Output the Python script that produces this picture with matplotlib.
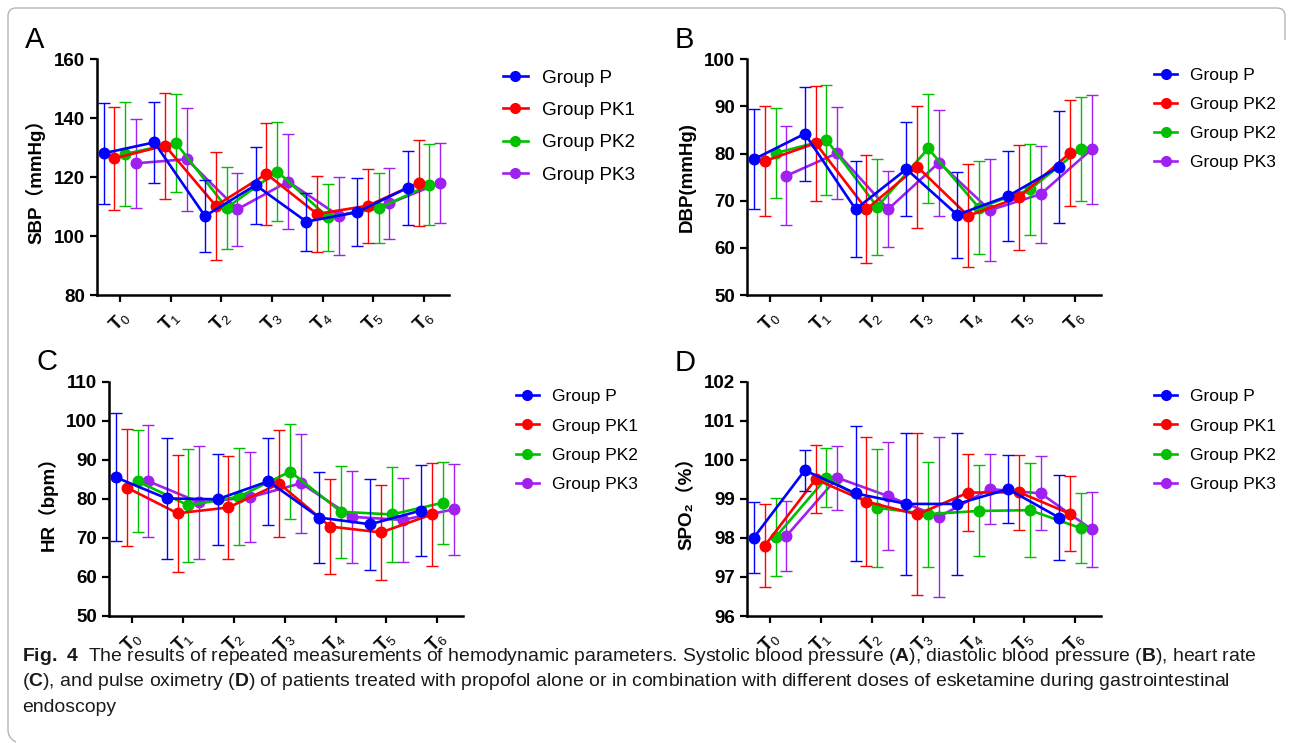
import matplotlib
matplotlib.use("Agg")
import matplotlib.pyplot as plt
from matplotlib.path import Path
from matplotlib.patches import PathPatch
import numpy as np

plt.rcParams['mathtext.fontset'] = 'custom'
plt.rcParams['mathtext.rm'] = 'Liberation Sans'
plt.rcParams['mathtext.bf'] = 'Liberation Sans:bold'
plt.rcParams['mathtext.sf'] = 'Liberation Sans:bold'
plt.rcParams['font.family'] = ['Liberation Sans', 'Noto Sans CJK SC', 'DejaVu Sans']

# ---------------- data ----------------
time_points = ['0', '1', '2', '3', '4', '5', '6']
tick_labels = [r'$\mathbf{T}_{\mathrm{%s}}$' % t for t in time_points]

groups_A = ['Group P', 'Group PK1', 'Group PK2', 'Group PK3']
groups_B = ['Group P', 'Group PK2', 'Group PK2', 'Group PK3']
groups_C = ['Group P', 'Group PK1', 'Group PK2', 'Group PK3']
groups_D = ['Group P', 'Group PK1', 'Group PK2', 'Group PK3']

# SBP (mmHg) mean / SD
sbp_p_mean = [128.1, 131.8, 106.8, 117.3, 104.9, 108.1, 116.4]
sbp_p_sd = [17.1, 13.7, 12.1, 13.1, 9.8, 11.5, 12.6]
sbp_pk1_mean = [126.4, 130.7, 110.3, 121.1, 107.5, 110.3, 118.1]
sbp_pk1_sd = [17.4, 18.0, 18.3, 17.4, 13.0, 12.6, 14.6]
sbp_pk2_mean = [127.9, 131.6, 109.6, 121.9, 106.4, 109.4, 117.4]
sbp_pk2_sd = [17.6, 16.5, 13.9, 16.8, 11.4, 11.9, 13.8]
sbp_pk3_mean = [124.7, 126.1, 109.1, 118.5, 106.9, 111.1, 118.1]
sbp_pk3_sd = [15.2, 17.5, 12.3, 16.1, 13.2, 12.0, 13.6]

# DBP (mmHg)
dbp_p_mean = [78.8, 84.2, 68.2, 76.7, 67.0, 71.0, 77.2]
dbp_p_sd = [10.65, 9.95, 10.2, 9.9, 9.15, 9.55, 11.85]
dbp_pk1_mean = [78.4, 82.2, 68.2, 77.2, 66.8, 70.7, 80.1]
dbp_pk1_sd = [11.65, 12.2, 11.4, 12.9, 10.95, 11.1, 11.3]
dbp_pk2_mean = [80.1, 82.9, 68.7, 81.1, 68.5, 72.4, 81.0]
dbp_pk2_sd = [9.55, 11.6, 10.15, 11.5, 9.9, 9.6, 11.05]
dbp_pk3_mean = [75.3, 80.1, 68.2, 78.1, 68.0, 71.4, 80.9]
dbp_pk3_sd = [10.5, 9.7, 8.05, 11.25, 10.8, 10.3, 11.55]

# HR (bpm)
hr_p_mean = [85.5, 80.1, 79.9, 84.5, 75.2, 73.5, 77.0]
hr_p_sd = [16.4, 15.5, 11.65, 11.2, 11.6, 11.65, 11.55]
hr_pk1_mean = [82.9, 76.3, 77.8, 83.9, 72.9, 71.4, 76.0]
hr_pk1_sd = [15.1, 15.0, 13.1, 13.75, 12.1, 12.15, 13.25]
hr_pk2_mean = [84.5, 78.3, 80.6, 87.0, 76.7, 76.0, 79.0]
hr_pk2_sd = [13.1, 14.45, 12.5, 12.1, 11.75, 12.1, 10.55]
hr_pk3_mean = [84.5, 79.1, 80.4, 84.0, 75.4, 74.6, 77.3]
hr_pk3_sd = [14.3, 14.5, 11.5, 12.65, 11.75, 10.85, 11.65]

# SpO2 (%)
spo2_p_mean = [98.01, 99.73, 99.14, 98.87, 98.87, 99.25, 98.52]
spo2_p_sd = [0.92, 0.52, 1.73, 1.82, 1.825, 0.87, 1.08]
spo2_pk1_mean = [97.80, 99.50, 98.93, 98.60, 99.16, 99.17, 98.62]
spo2_pk1_sd = [1.065, 0.875, 1.65, 2.075, 0.985, 0.965, 0.965]
spo2_pk2_mean = [98.02, 99.54, 98.77, 98.61, 98.69, 98.71, 98.25]
spo2_pk2_sd = [1.005, 0.75, 1.505, 1.345, 1.165, 1.2, 0.895]
spo2_pk3_mean = [98.05, 99.54, 99.07, 98.54, 99.25, 99.14, 98.22]
spo2_pk3_sd = [0.905, 0.815, 1.38, 2.05, 0.89, 0.95, 0.965]

colors = ['#0000FF', '#FF0000', '#00C000', '#A020F0']
offsets = [-0.32, -0.107, 0.107, 0.32]

W, H = 1292, 743
fig = plt.figure(figsize=(W / 100, H / 100), dpi=100)


def px_axes(x0, y0, x1, y1):
    return fig.add_axes([x0 / W, 1 - y1 / H, (x1 - x0) / W, (y1 - y0) / H])


panels = [
    dict(rect=(97, 59.3, 449.3, 295), letter='A', letter_xy=(25, 48.5),
         ylabel='SBP（mmHg）', ylim=(80, 160), yticks=np.arange(80, 161, 20),
         means=[sbp_p_mean, sbp_pk1_mean, sbp_pk2_mean, sbp_pk3_mean],
         sds=[sbp_p_sd, sbp_pk1_sd, sbp_pk2_sd, sbp_pk3_sd], groups=groups_A,
         leg=(502.7, 69.5), legfs=13.6, legsp=0.8),
    dict(rect=(747.3, 59.3, 1100.7, 295), letter='B', letter_xy=(675, 48.5),
         ylabel='DBP(mmHg)', ylim=(50, 100), yticks=np.arange(50, 101, 10),
         means=[dbp_p_mean, dbp_pk1_mean, dbp_pk2_mean, dbp_pk3_mean],
         sds=[dbp_p_sd, dbp_pk1_sd, dbp_pk2_sd, dbp_pk3_sd], groups=groups_B,
         leg=(1154, 67.8), legfs=12.5, legsp=0.8),
    dict(rect=(109.3, 381.7, 462.7, 616), letter='C', letter_xy=(37, 370.5),
         ylabel='HR（bpm）', ylim=(50, 110), yticks=np.arange(50, 111, 10),
         means=[hr_p_mean, hr_pk1_mean, hr_pk2_mean, hr_pk3_mean],
         sds=[hr_p_sd, hr_pk1_sd, hr_pk2_sd, hr_pk3_sd], groups=groups_C,
         leg=(515.7, 389.0), legfs=12.5, legsp=0.82),
    dict(rect=(747.3, 381.7, 1100.7, 616), letter='D', letter_xy=(675, 370.7),
         ylabel='SPO₂（%）', ylim=(96, 102), yticks=np.arange(96, 103, 1),
         means=[spo2_p_mean, spo2_pk1_mean, spo2_pk2_mean, spo2_pk3_mean],
         sds=[spo2_p_sd, spo2_pk1_sd, spo2_pk2_sd, spo2_pk3_sd], groups=groups_D,
         leg=(1154, 389.0), legfs=12.5, legsp=0.82),
]

xpos = np.arange(len(time_points))

for p in panels:
    ax = px_axes(*p['rect'])
    handles = []
    for gi in reversed(range(4)):
        x = xpos + offsets[gi]
        ax.errorbar(x, p['means'][gi], yerr=p['sds'][gi], color=colors[gi],
                    lw=1.9, marker='o', ms=7.6, mec=colors[gi], mfc=colors[gi],
                    elinewidth=1.0, capsize=4.0, capthick=1.0, zorder=3 + (3 - gi))
    for gi in range(4):
        h, = ax.plot([], [], color=colors[gi], lw=1.9, marker='o', ms=7,
                     label=p['groups'][gi])
        handles.append(h)
    ax.set_xlim(-0.45, 6.5)
    ax.set_ylim(*p['ylim'])
    ax.set_yticks(p['yticks'])
    ax.set_xticks(xpos)
    ax.set_xticklabels(tick_labels, rotation=45, ha='center', fontsize=13.5)
    for lab in ax.get_yticklabels():
        lab.set_fontweight('bold')
        lab.set_fontsize(13.5)
    ax.spines['top'].set_visible(False)
    ax.spines['right'].set_visible(False)
    for s in ['left', 'bottom']:
        ax.spines[s].set_linewidth(1.8)
    ax.tick_params(axis='both', direction='out', length=5, width=1.6, color='black')
    ax.tick_params(axis='x', pad=4)
    ax.set_ylabel(p['ylabel'], fontsize=13.5, fontweight='bold', labelpad=6,
                  family=['Liberation Sans', 'Noto Sans CJK SC', 'DejaVu Sans'])
    ax.legend(handles=handles, loc='upper left', frameon=False,
              bbox_to_anchor=(p['leg'][0] / W, 1 - p['leg'][1] / H),
              bbox_transform=fig.transFigure, borderpad=0, borderaxespad=0,
              fontsize=p['legfs'], handlelength=1.35, handletextpad=0.75,
              labelspacing=p['legsp'])
    fig.text(p['letter_xy'][0] / W, 1 - p['letter_xy'][1] / H, p['letter'],
             fontsize=21, va='baseline', ha='left')

# caption
cap_font = ['Liberation Sans Narrow', 'Liberation Sans', 'DejaVu Sans']
cap_lines = [
    r"$\mathsf{Fig.\ 4}$  The results of repeated measurements of hemodynamic parameters. Systolic blood pressure ($\mathsf{A}$), diastolic blood pressure ($\mathsf{B}$), heart rate",
    r"($\mathsf{C}$), and pulse oximetry ($\mathsf{D}$) of patients treated with propofol alone or in combination with different doses of esketamine during gastrointestinal",
    r"endoscopy",
]
cap_base = [661, 686.5, 712]
cap_texts = []
for line, yb in zip(cap_lines, cap_base):
    cap_texts.append(fig.text(22 / W, 1 - yb / H, line, fontsize=12.3, family=cap_font,
                              va='baseline', ha='left', color='#1a1a1a'))
fig.canvas.draw()
renderer = fig.canvas.get_renderer()
w1 = cap_texts[0].get_window_extent(renderer).width
target = 1262 - 22
scale = target / w1
for t in cap_texts:
    t.set_fontsize(12.3 * scale)

# border
def inch(xp, yp):
    return (xp / 100, (H - yp) / 100)

r = 8
verts = [inch(1285, 40), inch(1285, 8 + r), inch(1285, 8), inch(1285 - r, 8),
         inch(8 + r, 8), inch(8, 8), inch(8, 8 + r),
         inch(8, 738 - r), inch(8, 738), inch(8 + r, 742)]
codes = [Path.MOVETO, Path.LINETO, Path.CURVE3, Path.CURVE3,
         Path.LINETO, Path.CURVE3, Path.CURVE3,
         Path.LINETO, Path.CURVE3, Path.CURVE3]
patch = PathPatch(Path(verts, codes), fill=False, edgecolor='#b5b5b5', lw=1.0,
                  transform=fig.dpi_scale_trans)
fig.patches.append(patch)

fig.savefig('out.png', dpi=100)
